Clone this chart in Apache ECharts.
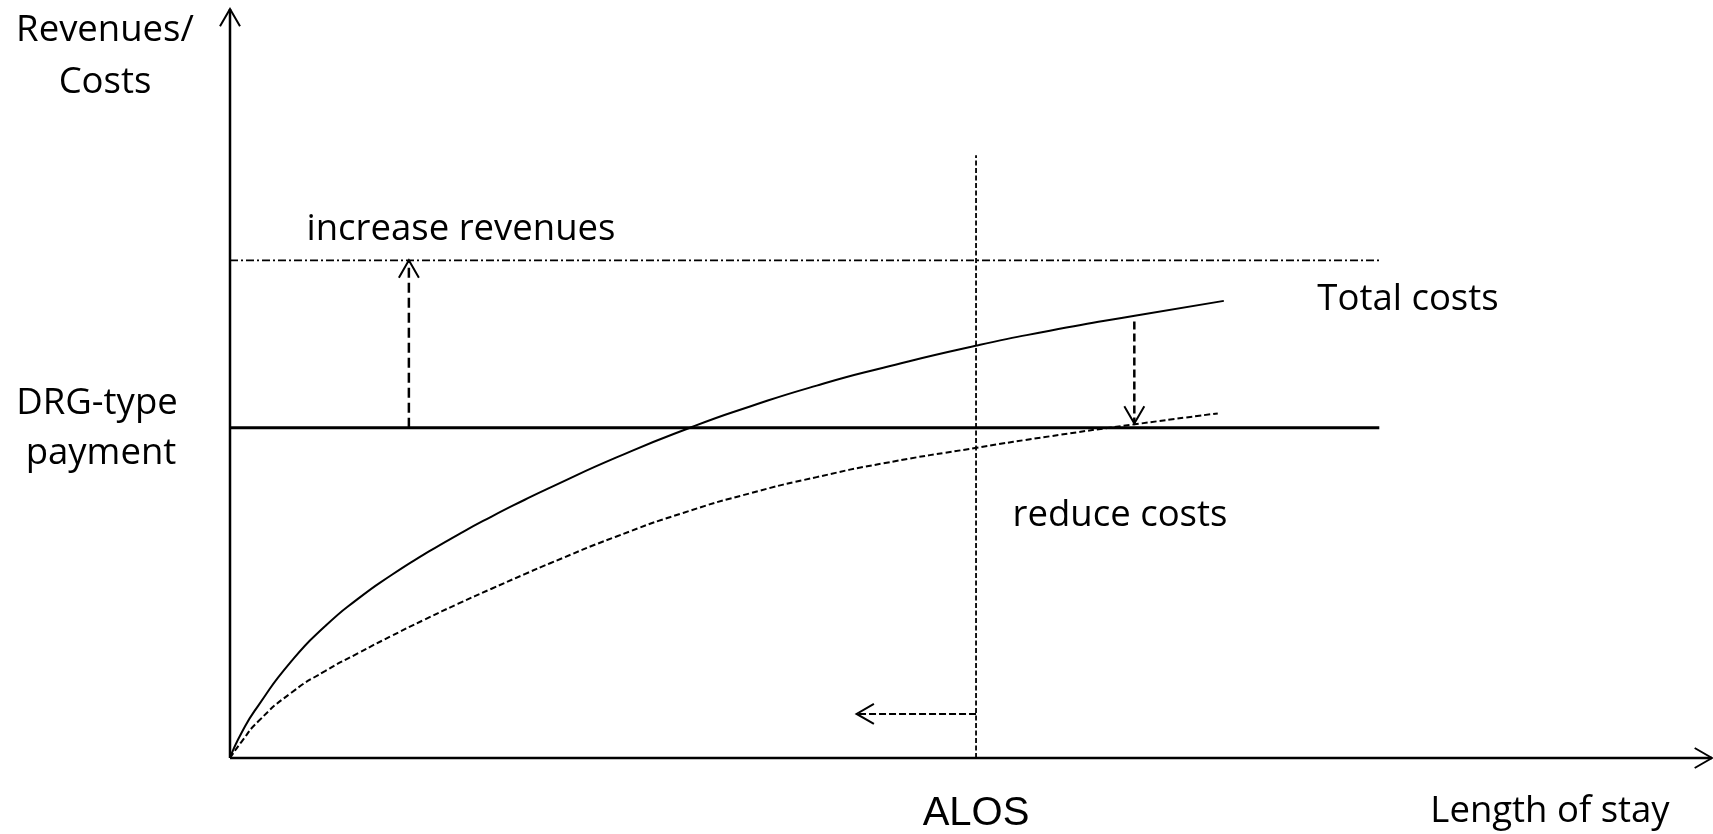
<!DOCTYPE html>
<html>
<head>
<meta charset="utf-8">
<script src="https://cdn.jsdelivr.net/npm/echarts@6/dist/echarts.min.js"></script>
<style>
  html, body { margin: 0; padding: 0; background: #fff; }
  #chart { width: 1713px; height: 834px; }
</style>
</head>
<body>
<div id="chart"></div>
<script>
// ---- data (in abstract axis units, 0..100 on both axes) ----
const totalCostX = [0, 0.79, 1.91, 4.16, 6.41, 8.65, 10.9, 13.15, 15.4, 17.65, 19.89, 21.6, 26.08, 31.04, 35.09, 39.59, 44.08, 50.38, 55.32, 61.05, 67.06];
const totalCostY = [0, 3.4, 7.0, 12.97, 17.58, 21.28, 24.43, 27.24, 29.83, 32.24, 34.48, 36.1, 40.13, 44.1, 46.93, 49.72, 52.1, 55.06, 57.04, 59.05, 61.03];
const reducedCostX = [0, 0.79, 1.91, 4.16, 6.41, 8.65, 10.9, 13.15, 15.4, 17.65, 19.89, 21.6, 26.08, 30.57, 35.09, 39.59, 44.08, 50.38, 55.32, 61.05, 66.65];
const reducedCostY = [0, 2.2, 4.9, 8.75, 11.6, 14.0, 16.3, 18.5, 20.6, 22.6, 24.55, 26.0, 29.58, 32.72, 35.34, 37.5, 39.34, 41.42, 42.95, 44.55, 46.01];
const drgPayment = 44.08;
const increasedRevenue = 66.44;
const paymentLineEnd = 77.55;
const alos = 50.34;
const alosLineTop = 80.48;
const axisArrows = [[0, 0, 0, 100], [0, 0, 100, 0]];
const increaseArrow = [[12.07, 44.08, 12.07, 66.44]];
const reduceArrow = [[61.02, 58.29, 61.02, 44.65]];
const shortenStayArrow = [[50.34, 5.88, 42.28, 5.88]];
const labels = {
  yTitle: ['Revenues/', 'Costs'],
  payment: ['DRG-type', 'payment'],
  increase: 'increase revenues',
  total: 'Total costs',
  reduce: 'reduce costs',
  alos: 'ALOS',
  xTitle: 'Length of stay'
};

const zip = (xs, ys) => xs.map((x, i) => [x, ys[i]]);
const FONT = '36.5px "Open Sans"';

function arrowSeries(data, width, dash) {
  return {
    type: 'custom',
    silent: true,
    encode: { x: [0, 2], y: [1, 3] },
    data: data,
    z: 5,
    renderItem: function (params, api) {
      const p1 = api.coord([api.value(0), api.value(1)]);
      const p2 = api.coord([api.value(2), api.value(3)]);
      const ang = Math.atan2(p2[1] - p1[1], p2[0] - p1[0]);
      const L = 20, a = Math.PI / 6;
      const w1 = [p2[0] - L * Math.cos(ang - a), p2[1] - L * Math.sin(ang - a)];
      const w2 = [p2[0] - L * Math.cos(ang + a), p2[1] - L * Math.sin(ang + a)];
      return {
        type: 'group',
        children: [
          { type: 'line', shape: { x1: p1[0], y1: p1[1], x2: p2[0], y2: p2[1] },
            style: { stroke: '#000', lineWidth: width, lineDash: dash, fill: null } },
          { type: 'polyline', shape: { points: [w1, p2, w2] },
            style: { stroke: '#000', lineWidth: 2, fill: null } }
        ]
      };
    }
  };
}

function txt(text, x, y, font) {
  return { type: 'text', x: x, y: y, silent: true,
    style: { text: text, font: font || FONT, fill: '#000', align: 'center', verticalAlign: 'middle' } };
}

const chart = echarts.init(document.getElementById('chart'), null, { renderer: 'canvas' });
chart.setOption({
  animation: false,
  backgroundColor: '#fff',
  grid: { left: 230, right: 1, top: 9, bottom: 76 },
  xAxis: { type: 'value', min: 0, max: 100, show: false },
  yAxis: { type: 'value', min: 0, max: 100, show: false },
  series: [
    { type: 'line', data: zip(totalCostX, totalCostY), smooth: 0.6, symbol: 'none',
      lineStyle: { color: '#000', width: 2 } },
    { type: 'line', data: zip(reducedCostX, reducedCostY), smooth: 0.6, symbol: 'none',
      lineStyle: { color: '#000', width: 2, type: [6, 3] } },
    { type: 'line', data: [[0, drgPayment], [paymentLineEnd, drgPayment]], symbol: 'none',
      lineStyle: { color: '#000', width: 3 } },
    { type: 'line', data: [[0, increasedRevenue], [paymentLineEnd, increasedRevenue]], symbol: 'none',
      lineStyle: { color: '#000', width: 1.7, type: [8, 3, 2, 3] } },
    { type: 'line', data: [[alos, 0], [alos, alosLineTop]], symbol: 'none',
      lineStyle: { color: '#000', width: 1.8, type: [5, 2.5] } },
    arrowSeries(axisArrows, 2.5, null),
    arrowSeries(increaseArrow, 2.5, [10, 5]),
    arrowSeries(reduceArrow, 2.5, [8, 4]),
    arrowSeries(shortenStayArrow, 2, [7, 3])
  ],
  graphic: [
    txt(labels.yTitle[0], 105, 31),
    txt(labels.yTitle[1], 105, 83),
    txt(labels.payment[0], 97, 404),
    txt(labels.payment[1], 101, 454),
    txt(labels.increase, 461, 230),
    txt(labels.total, 1408, 300),
    txt(labels.reduce, 1120, 516),
    txt(labels.alos, 976, 814, '40px "Liberation Sans"'),
    txt(labels.xTitle, 1550, 812)
  ]
});
</script>
</body>
</html>
